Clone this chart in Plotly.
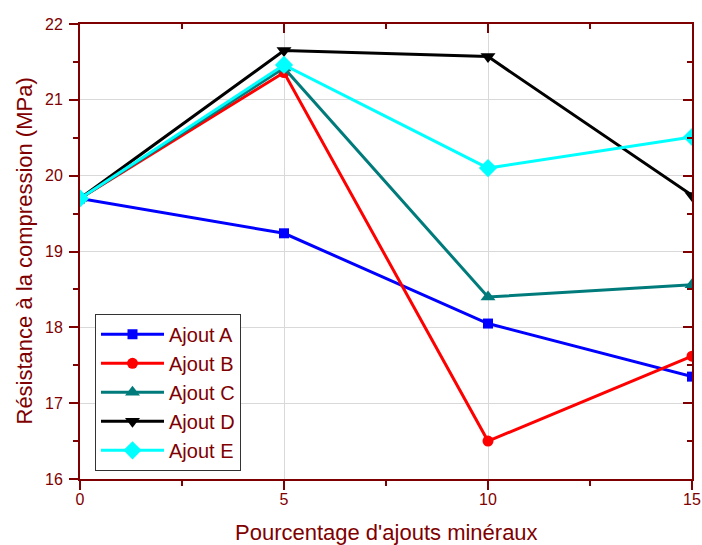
import plotly.graph_objects as go

x_pct = [0, 5, 10, 15]
ajout_a = [19.70, 19.24, 18.05, 17.35]
ajout_b = [19.70, 21.36, 16.50, 17.62]
ajout_c = [19.70, 21.42, 18.40, 18.56]
ajout_d = [19.70, 21.65, 21.57, 19.74]
ajout_e = [19.70, 21.46, 20.10, 20.51]

series = [
    ("Ajout A", ajout_a, "#0000ff", "square", 10),
    ("Ajout B", ajout_b, "#ff0000", "circle", 11),
    ("Ajout C", ajout_c, "#007b7b", "triangle-up", 13),
    ("Ajout D", ajout_d, "#000000", "triangle-down", 13),
    ("Ajout E", ajout_e, "#00ffff", "diamond", 14),
]

DR = "#7f0000"
FONT = "Liberation Sans, Arial, sans-serif"

fig = go.Figure()
for name, vals, col, sym, sz in series:
    fig.add_trace(go.Scatter(
        x=x_pct, y=vals, name=name, mode="lines+markers",
        line=dict(color=col, width=3),
        marker=dict(symbol=sym, size=sz, color=col),
        cliponaxis=True,
    ))

# invisible trace to activate mirrored axes
fig.add_trace(go.Scatter(x=[0], y=[19.7], xaxis="x2", yaxis="y2", mode="markers",
                         marker=dict(opacity=0), showlegend=False, hoverinfo="skip"))

common = dict(showline=True, linecolor=DR, linewidth=2, ticklen=9, tickwidth=2,
              tickcolor=DR, zeroline=False, automargin=False)

fig.update_layout(
    width=702, height=545,
    margin=dict(l=80, r=10, t=24, b=66),
    paper_bgcolor="white", plot_bgcolor="white",
    font=dict(family=FONT, color=DR, size=16),
    xaxis=dict(range=[0, 15], tickvals=[0, 5, 10, 15], ticks="outside",
               showgrid=True, gridcolor="#d9d9d9", gridwidth=1,
               minor=dict(ticks="outside", ticklen=5, tickcolor=DR, tickwidth=2, dtick=2.5, showgrid=False),
               ticklabelstandoff=-4,
               tickfont=dict(size=16, color=DR), **common),
    yaxis=dict(range=[16, 22], tickvals=[16, 17, 18, 19, 20, 21, 22], ticks="outside",
               showgrid=True, gridcolor="#d9d9d9", gridwidth=1,
               minor=dict(ticks="outside", ticklen=5, tickcolor=DR, tickwidth=2, dtick=0.5, showgrid=False),
               ticklabelstandoff=3,
               tickfont=dict(size=16, color=DR), **common),
    xaxis2=dict(range=[0, 15], overlaying="x", side="top", tickvals=[0, 5, 10, 15], ticks="inside",
                showticklabels=False, showgrid=False,
                minor=dict(ticks="inside", ticklen=5, tickcolor=DR, tickwidth=2, dtick=2.5, showgrid=False),
                **common),
    yaxis2=dict(range=[16, 22], overlaying="y", side="right", tickvals=[16, 17, 18, 19, 20, 21, 22], ticks="inside",
                showticklabels=False, showgrid=False,
                minor=dict(ticks="inside", ticklen=5, tickcolor=DR, tickwidth=2, dtick=0.5, showgrid=False),
                **common),
    legend=dict(x=0.0245, y=0.363, xanchor="left", yanchor="top",
                bgcolor="white", bordercolor="#333333", borderwidth=1,
                font=dict(size=20, color=DR), tracegroupgap=0, itemwidth=63),
    showlegend=True,
    annotations=[
        dict(text="Pourcentage d'ajouts minéraux", xref="paper", yref="paper", x=0.5, y=0,
             xanchor="center", yanchor="middle", yshift=-53, showarrow=False,
             font=dict(size=22, color=DR)),
        dict(text="Résistance à la compression (MPa)", xref="paper", yref="paper", x=0, y=0.5,
             xanchor="center", yanchor="middle", xshift=-56, textangle=-90, showarrow=False,
             font=dict(size=22, color=DR)),
    ],
)

fig.write_html("out.html")
